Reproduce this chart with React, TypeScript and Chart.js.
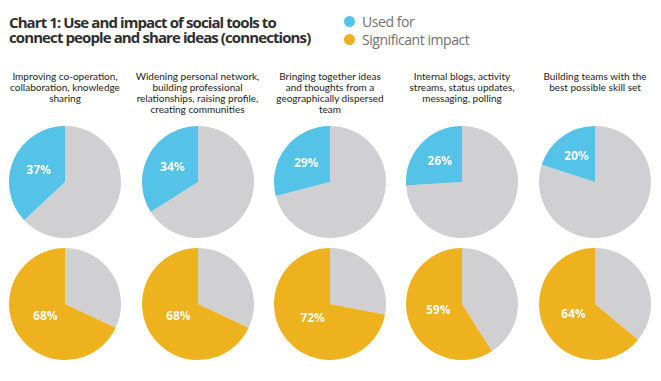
import React, { useEffect, useRef } from "react";
import { Chart, registerables } from "chart.js";

Chart.register(...registerables);

const titleLines = [
  "Chart 1: Use and impact of social tools to",
  "connect people and share ideas (connections)",
];
const seriesNames = ["Used for", "Significant impact"];
const categories = [
  ["Improving co-operation,", "collaboration, knowledge", "sharing"],
  ["Widening personal network,", "building professional", "relationships, raising profile,", "creating communities"],
  ["Bringing together ideas", "and thoughts from a", "geographically dispersed", "team"],
  ["Internal blogs, activity", "streams, status updates,", "messaging, polling"],
  ["Building teams with the", "best possible skill set"],
];
const usedFor = [37, 34, 29, 26, 20];
const significantImpact = [68, 68, 72, 59, 64];

const BLUE = "#55c3e8";
const GOLD = "#efb21f";
const GREY = "#d0d0d3";

const COL_X = [65, 197.5, 330, 462, 595];
const ROW_Y = [182, 304];
const R = 56;

const labelPlugin = {
  id: "pctLabel",
  afterDatasetsDraw(chart: any) {
    const meta = chart.getDatasetMeta(0);
    const arc = meta.data[1];
    if (!arc) return;
    const v = chart.data.datasets[0].data[1] as number;
    const { x, y, startAngle, endAngle, outerRadius } = arc.getProps(
      ["x", "y", "startAngle", "endAngle", "outerRadius"],
      true
    );
    const mid = (startAngle + endAngle) / 2;
    const frac = v / 100;
    const r = outerRadius * (0.62 - 0.3 * frac);
    const ctx = chart.ctx;
    ctx.save();
    ctx.fillStyle = "#ffffff";
    ctx.font = "700 12px 'Open Sans', sans-serif";
    ctx.textAlign = "center";
    ctx.textBaseline = "middle";
    ctx.fillText(v + "%", x + Math.cos(mid) * r, y + Math.sin(mid) * r);
    ctx.restore();
  },
};

function Pie({ value, color, cx, cy }: { value: number; color: string; cx: number; cy: number }) {
  const ref = useRef<HTMLCanvasElement>(null);
  useEffect(() => {
    if (!ref.current) return;
    const chart = new Chart(ref.current, {
      type: "pie",
      data: {
        labels: ["Other", "Value"],
        datasets: [
          {
            data: [100 - value, value],
            backgroundColor: [GREY, color],
            borderWidth: 0,
          },
        ],
      },
      options: {
        responsive: false,
        animation: false,
        devicePixelRatio: 1,
        layout: { padding: 0 },
        plugins: { legend: { display: false }, tooltip: { enabled: false } },
      },
      plugins: [labelPlugin],
    });
    return () => chart.destroy();
  }, [value, color]);
  return (
    <canvas
      ref={ref}
      width={R * 2}
      height={R * 2}
      style={{ position: "absolute", left: cx - R, top: cy - R, width: R * 2, height: R * 2 }}
    />
  );
}

export default function App() {
  return (
    <div
      style={{
        position: "absolute",
        left: 0,
        top: 0,
        width: 661,
        height: 381,
        background: "#fff",
        overflow: "hidden",
      }}
    >
      <div
        style={{
          position: "absolute",
          left: 9,
          top: 15,
          font: "700 15px/14.5px 'Open Sans', sans-serif",
          letterSpacing: "-0.9px",
          color: "#2e2e2e",
          whiteSpace: "nowrap",
        }}
      >
        {titleLines.map((l, i) => (
          <div key={i}>{l}</div>
        ))}
      </div>
      {seriesNames.map((n, i) => (
        <div
          key={n}
          style={{
            position: "absolute",
            left: 344,
            top: 13 + i * 17.5,
            height: 17,
            display: "flex",
            alignItems: "center",
            font: "400 14px 'Open Sans', sans-serif",
            letterSpacing: "-0.45px",
            color: "#707070",
            whiteSpace: "nowrap",
          }}
        >
          <span
            style={{
              display: "inline-block",
              width: 11,
              height: 11,
              borderRadius: "50%",
              background: i === 0 ? BLUE : GOLD,
              marginRight: 7,
            }}
          />
          {n}
        </div>
      ))}
      {categories.map((lines, i) => (
        <div
          key={i}
          style={{
            position: "absolute",
            left: COL_X[i] - 70,
            top: 71,
            width: 140,
            textAlign: "center",
            font: "400 10px/11px 'Lato', sans-serif",
            color: "#222",
          }}
        >
          {lines.map((l, j) => (
            <div key={j}>{l}</div>
          ))}
        </div>
      ))}
      {usedFor.map((v, i) => (
        <Pie key={"u" + i} value={v} color={BLUE} cx={COL_X[i]} cy={ROW_Y[0]} />
      ))}
      {significantImpact.map((v, i) => (
        <Pie key={"s" + i} value={v} color={GOLD} cx={COL_X[i]} cy={ROW_Y[1]} />
      ))}
    </div>
  );
}
